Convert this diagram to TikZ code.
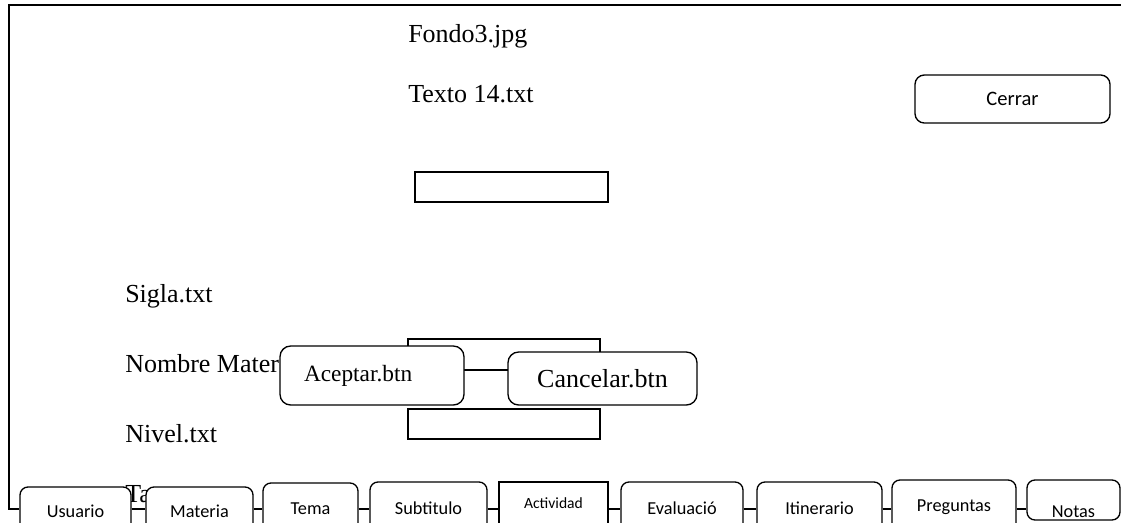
\documentclass[tikz,border=0pt]{standalone}
\usepackage{fontspec}
\setmainfont{Liberation Serif}
\newfontfamily\uifont{Carlito}
\newcommand{\px}{0.75pt}
\begin{document}
\begin{tikzpicture}[x=0.75pt,y=-0.75pt,
  lbl/.style={anchor=base west, inner sep=0pt, font=\fontsize{19.5}{22}\selectfont},
  field/.style={draw, line width=1.1pt, fill=white, inner sep=0pt},
  tab/.style={draw, line width=1pt, rounded corners=6pt, fill=white, inner sep=0pt,
    font=\uifont\fontsize{13.7}{16}\selectfont},
  btn/.style={draw, line width=1pt, rounded corners=7pt, fill=white, inner sep=0pt},
  wire/.style={line width=1pt},
  frame/.style={line width=1.3pt}]

\clip (0,0) rectangle (1121,522);
\fill[white] (0,0) rectangle (1121,522);

% window frame
\coordinate (ftr) at (1130,5);
\coordinate (ftl) at (9,5);
\coordinate (fbl) at (9,509);
\coordinate (bus) at (0,509);

% labels
\node[lbl] (fondo) at (408,42) {Fondo3.jpg};
\node[lbl] (texto) at (408,102) {Texto 14.txt};
\node[lbl] (sigla) at (125,302) {Sigla.txt};
\node[lbl] (nombre) at (125,372) {Nombre Mater};
\node[lbl] (nivel) at (125,442) {Nivel.txt};
\node[lbl] (tarea) at (125,502) {Ta};

% input fields
\node[field, minimum width=193*\px, minimum height=30*\px] (f1) at (511.5,187) {};
\node[field, minimum width=192*\px, minimum height=31*\px] (f2) at (504,354.5) {};
\node[field, minimum width=192*\px, minimum height=30*\px] (f3) at (504,424) {};

% buttons
\node[btn, minimum width=195*\px, minimum height=48*\px,
  font=\uifont\fontsize{15.4}{18}\selectfont] (cerrar) at (1012.5,99) {Cerrar};
\node[btn, rounded corners=8pt, minimum height=59*\px, text width=136*\px, inner xsep=24*\px,
  align=left, font=\fontsize{17.5}{20}\selectfont] (acep) at (372,375.5) {Aceptar.btn};
\node[btn, rounded corners=8pt, minimum width=189*\px, minimum height=53*\px,
  font=\fontsize{19.5}{22}\selectfont] (canc) at (602.5,378.5) {Cancelar.btn};

% tab bar
\node[tab, minimum width=111*\px, minimum height=48*\px] (usu) at (75.5,511) {Usuario};
\node[tab, minimum width=107*\px, minimum height=48*\px] (mat) at (199.5,511) {Materia};
\node[tab, minimum width=95*\px, minimum height=52*\px] (tema) at (310.5,509) {Tema};
\node[tab, minimum width=117*\px, minimum height=53*\px] (sub) at (428.5,508.5) {Subtitulo};
\node[tab, rounded corners=0pt, minimum width=109*\px, minimum height=53*\px,
  label={[name=acttxt, font=\uifont\fontsize{11.7}{14}\selectfont, yshift=4pt]center:Actividad}]
  (act) at (553.5,508.5) {};
\node[tab, minimum width=122*\px, minimum height=53*\px] (eval) at (682,508.5) {Evaluació};
\node[tab, minimum width=125*\px, minimum height=53*\px] (itin) at (819.5,508.5) {Itinerario};
\node[tab, minimum width=124*\px, minimum height=55*\px] (preg) at (954,507.5) {Preguntas};
\node[tab, minimum width=93*\px, minimum height=40*\px] (notas) at (1073.5,500) {};
\begin{scope}
  \clip (notas.north west) rectangle ([yshift=1pt]notas.south east);
  \node[inner sep=0pt, font=\uifont\fontsize{13.7}{16}\selectfont] (notastxt) at (1073.5,512) {Notas};
\end{scope}

% frame and tab connectors
\draw[frame] (ftr) -- (ftl) -- (fbl) -- (usu.west |- fbl);
\draw[wire] (usu.east |- bus) -- (mat.west |- bus);
\draw[wire] (mat.east |- bus) -- (tema.west |- bus);
\draw[wire] (tema.east |- bus) -- (sub.west |- bus);
\draw[wire] (sub.east |- bus) -- (act.west |- bus);
\draw[wire] (act.east |- bus) -- (eval.west |- bus);
\draw[wire] (eval.east |- bus) -- (itin.west |- bus);
\draw[wire] (itin.east |- bus) -- (preg.west |- bus);
\draw[wire] (preg.east |- bus) -- (notas.west |- bus);
\end{tikzpicture}
\end{document}
